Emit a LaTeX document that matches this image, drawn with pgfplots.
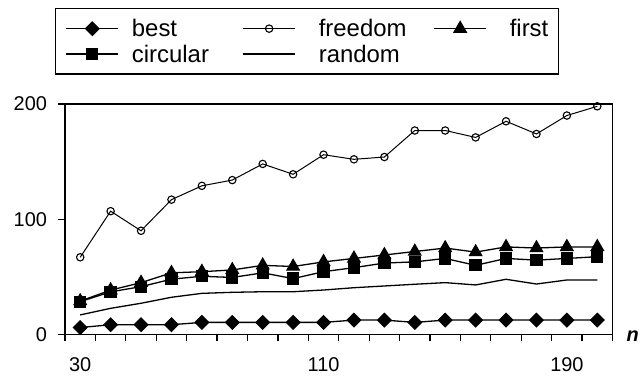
\documentclass[border=0pt]{standalone}
\usepackage{pgfplots}
\pgfplotsset{compat=1.18}
\usepackage{fontspec}
\setmainfont{Liberation Sans}
\begin{document}
\begin{tikzpicture}
\begin{axis}[
  scale only axis, width=547.5bp, height=230.5bp,
  xmin=-0.5, xmax=17.5, ymin=0, ymax=200,
  xtick={-0.5,0.5,1.5,2.5,3.5,4.5,5.5,6.5,7.5,8.5,9.5,10.5,11.5,12.5,13.5,14.5,15.5,16.5,17.5},
  xticklabels={},
  extra x ticks={0,8,16},
  extra x tick labels={30,110,190},
  extra x tick style={major tick length=0pt, xticklabel style={yshift=-20bp}},
  ytick={0,100,200},
  yticklabel style={xshift=-8bp},
  tick pos=left,
  tick align=outside,
  major tick length=6.5bp,
  axis line style={line width=1.3bp},
  every tick/.style={black, line width=1.3bp},
  /pgf/number format/assume math mode=true,
  tick label style={font=\fontsize{20}{24}\selectfont},
  legend columns=3,
  legend cell align=left,
  legend image code/.code={\draw[mark repeat=2,mark phase=2,#1] plot coordinates {(0bp,0bp) (26bp,0bp) (52bp,0bp)};},
  legend style={at={(-0.01826,1.4165)}, anchor=north west, draw=black, line width=1.3bp,
    font=\fontsize{24}{28}\selectfont,
    inner xsep=10bp, inner ysep=8bp, row sep=1.5bp, column sep=0bp,
    nodes={inner sep=0bp, text height=20bp, text depth=4bp},
    /tikz/column 1/.style={column sep=13bp},
    /tikz/column 2/.style={column sep=33.5bp},
    /tikz/column 3/.style={column sep=23bp},
    /tikz/column 4/.style={column sep=27bp},
    /tikz/column 5/.style={column sep=23bp}},
  clip=false,
]
% best
\addplot[black, line width=1.3bp, mark=square*, mark size=4.7bp, mark options={rotate=45, solid, fill=black}]
 coordinates {(0,6)(1,8.5)(2,8.5)(3,8.5)(4,10.5)(5,10.5)(6,10.5)(7,10.5)(8,10.5)(9,12.5)(10,12.5)(11,10.5)(12,12.5)(13,12.5)(14,12.5)(15,12.5)(16,12.5)(17,12.5)};
\addlegendentry{best}
% freedom
\addplot[black, line width=1bp, mark=o, mark size=3.7bp, mark options={solid, fill=white, line width=1.1bp}]
 coordinates {(0,67)(1,107)(2,90)(3,117)(4,129)(5,134)(6,148)(7,139)(8,156)(9,152)(10,154)(11,177)(12,177)(13,171)(14,185)(15,174)(16,190)(17,198)};
\addlegendentry{freedom}
% first
\addplot[black, line width=1.3bp, mark=triangle*, mark size=7bp, mark options={solid, fill=black}]
 coordinates {(0,29)(1,38.5)(2,45)(3,53.5)(4,54.5)(5,56)(6,60)(7,59)(8,63)(9,66)(10,69)(11,72)(12,75)(13,71.5)(14,76)(15,75)(16,76)(17,76)};
\addlegendentry{first}
% circular
\addplot[black, line width=1.3bp, mark=square*, mark size=5.5bp, mark options={solid, fill=black}]
 coordinates {(0,28.5)(1,37)(2,41.5)(3,48)(4,50.5)(5,49.5)(6,53.5)(7,48.5)(8,54.5)(9,58)(10,62)(11,63)(12,66)(13,60)(14,66)(15,64.5)(16,66)(17,67.5)};
\addlegendentry{circular}
% random
\addplot[black, line width=1.3bp, mark=none]
 coordinates {(0,17)(1,22.7)(2,27.1)(3,32.3)(4,35.7)(5,36.6)(6,37.1)(7,37.1)(8,38.6)(9,40.6)(10,42.1)(11,43.6)(12,45)(13,43)(14,47.9)(15,43.8)(16,47.3)(17,47.3)};
\addlegendentry{random}
\node[anchor=west, font=\fontsize{20}{24}\selectfont\bfseries\itshape, inner sep=0pt] at (rel axis cs:1,0) [xshift=14bp, yshift=-2bp] {n};
\end{axis}
\pgfresetboundingbox
\path[use as bounding box] (-65bp,-41.5bp) rectangle (575bp,334.5bp);
\end{tikzpicture}
\end{document}
